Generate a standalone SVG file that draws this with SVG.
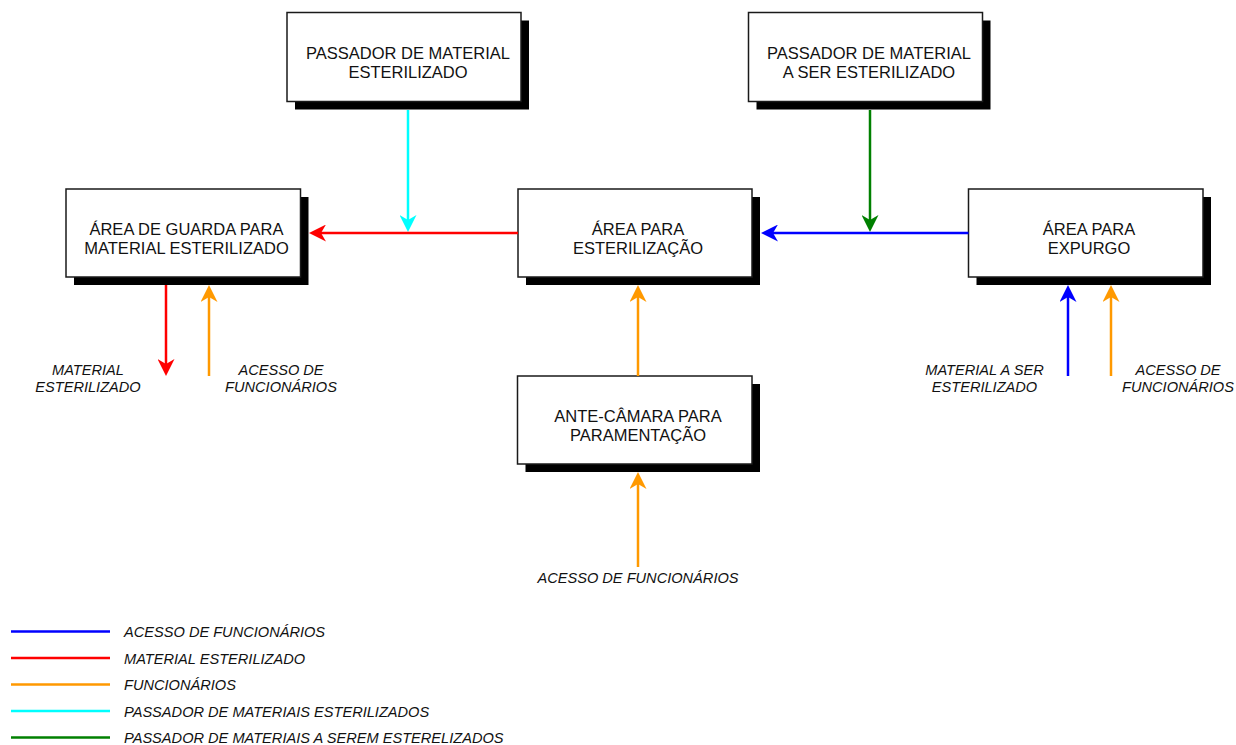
<svg xmlns="http://www.w3.org/2000/svg" width="1236" height="745" viewBox="0 0 1236 745">
  <defs>
    <style>
      .box { fill: #ffffff; stroke: #1a1a1a; stroke-width: 1.5; }
      .shadow { fill: #000000; }
      .title { font-family: "Liberation Sans", Arial, Helvetica, sans-serif; font-size: 16.5px; fill: #111111; text-anchor: middle; }
      .label { font-family: "Liberation Sans", Arial, Helvetica, sans-serif; font-size: 14.6px; font-style: italic; fill: #111111; text-anchor: middle; }
      .legend-text { font-family: "Liberation Sans", Arial, Helvetica, sans-serif; font-size: 14.6px; font-style: italic; fill: #111111; }
      .flow { fill: none; stroke-width: 2.5; }
      .blue { stroke: #0000ff; }
      .red { stroke: #ff0000; }
      .orange { stroke: #ff9900; }
      .cyan { stroke: #00ffff; }
      .green { stroke: #008000; }
    </style>
    <marker id="arrow-blue" viewBox="0 0 17 17" refX="5" refY="8.5" markerWidth="17" markerHeight="17" markerUnits="userSpaceOnUse" orient="auto">
      <path d="M0,0 L17,8.5 L0,17 L5,8.5 Z" fill="#0000ff"/>
    </marker>
    <marker id="arrow-red" viewBox="0 0 17 17" refX="5" refY="8.5" markerWidth="17" markerHeight="17" markerUnits="userSpaceOnUse" orient="auto">
      <path d="M0,0 L17,8.5 L0,17 L5,8.5 Z" fill="#ff0000"/>
    </marker>
    <marker id="arrow-orange" viewBox="0 0 17 17" refX="5" refY="8.5" markerWidth="17" markerHeight="17" markerUnits="userSpaceOnUse" orient="auto">
      <path d="M0,0 L17,8.5 L0,17 L5,8.5 Z" fill="#ff9900"/>
    </marker>
    <marker id="arrow-cyan" viewBox="0 0 17 17" refX="5" refY="8.5" markerWidth="17" markerHeight="17" markerUnits="userSpaceOnUse" orient="auto">
      <path d="M0,0 L17,8.5 L0,17 L5,8.5 Z" fill="#00ffff"/>
    </marker>
    <marker id="arrow-green" viewBox="0 0 17 17" refX="5" refY="8.5" markerWidth="17" markerHeight="17" markerUnits="userSpaceOnUse" orient="auto">
      <path d="M0,0 L17,8.5 L0,17 L5,8.5 Z" fill="#008000"/>
    </marker>
  </defs>

  <rect width="1236" height="745" fill="#ffffff"/>

  <!-- Rooms -->
  <g id="passador-esterilizado">
    <rect class="shadow" x="295" y="20.5" width="234" height="89"/>
    <rect class="box" x="287" y="12.5" width="234" height="89"/>
    <text class="title" x="408" y="59">PASSADOR DE MATERIAL</text>
    <text class="title" x="408" y="78">ESTERILIZADO</text>
  </g>

  <g id="passador-a-esterilizar">
    <rect class="shadow" x="756.5" y="20.5" width="234" height="89"/>
    <rect class="box" x="748.5" y="12.5" width="234" height="89"/>
    <text class="title" x="869" y="59">PASSADOR DE MATERIAL</text>
    <text class="title" x="869" y="78">A SER ESTERILIZADO</text>
  </g>

  <g id="area-guarda">
    <rect class="shadow" x="74" y="197" width="234.5" height="88"/>
    <rect class="box" x="66" y="189" width="234.5" height="88"/>
    <text class="title" x="186.5" y="235">ÁREA DE GUARDA PARA</text>
    <text class="title" x="186.5" y="254">MATERIAL ESTERILIZADO</text>
  </g>

  <g id="area-esterilizacao">
    <rect class="shadow" x="526" y="197" width="234" height="88"/>
    <rect class="box" x="518" y="189" width="234" height="88"/>
    <text class="title" x="638" y="235">ÁREA PARA</text>
    <text class="title" x="638" y="254">ESTERILIZAÇÃO</text>
  </g>

  <g id="area-expurgo">
    <rect class="shadow" x="976.5" y="197" width="234.5" height="88"/>
    <rect class="box" x="968.5" y="189" width="234.5" height="88"/>
    <text class="title" x="1089" y="235">ÁREA PARA</text>
    <text class="title" x="1089" y="254">EXPURGO</text>
  </g>

  <g id="ante-camara">
    <rect class="shadow" x="525.5" y="384" width="234.5" height="88"/>
    <rect class="box" x="517.5" y="376" width="234.5" height="88"/>
    <text class="title" x="638" y="422">ANTE-CÂMARA PARA</text>
    <text class="title" x="638" y="441">PARAMENTAÇÃO</text>
  </g>

  <!-- Flows -->
  <g id="connectors">
    <line class="flow cyan" x1="408" y1="110" x2="408" y2="220" marker-end="url(#arrow-cyan)"/>
    <line class="flow red" x1="518" y1="233" x2="321" y2="233" marker-end="url(#arrow-red)"/>
    <line class="flow green" x1="870" y1="110" x2="870" y2="220" marker-end="url(#arrow-green)"/>
    <line class="flow blue" x1="968.5" y1="233" x2="773" y2="233" marker-end="url(#arrow-blue)"/>
    <line class="flow red" x1="166" y1="285" x2="166" y2="364" marker-end="url(#arrow-red)"/>
    <line class="flow orange" x1="209" y1="376" x2="209" y2="297" marker-end="url(#arrow-orange)"/>
    <line class="flow orange" x1="638" y1="376" x2="638" y2="297" marker-end="url(#arrow-orange)"/>
    <line class="flow orange" x1="638" y1="567" x2="638" y2="484" marker-end="url(#arrow-orange)"/>
    <line class="flow blue" x1="1068" y1="376" x2="1068" y2="297" marker-end="url(#arrow-blue)"/>
    <line class="flow orange" x1="1111" y1="376" x2="1111" y2="297" marker-end="url(#arrow-orange)"/>
  </g>

  <!-- Flow labels -->
  <g id="flow-labels">
    <text class="label" x="88" y="374.5">MATERIAL</text>
    <text class="label" x="88" y="392">ESTERILIZADO</text>
    <text class="label" x="281" y="374.5">ACESSO DE</text>
    <text class="label" x="281" y="392">FUNCIONÁRIOS</text>
    <text class="label" x="984.5" y="374.5">MATERIAL A SER</text>
    <text class="label" x="984.5" y="392">ESTERILIZADO</text>
    <text class="label" x="1178" y="374.5">ACESSO DE</text>
    <text class="label" x="1178" y="392">FUNCIONÁRIOS</text>
    <text class="label" x="638" y="583">ACESSO DE FUNCIONÁRIOS</text>
  </g>

  <!-- Legend -->
  <g id="legend">
    <line class="flow blue" x1="11" y1="631.5" x2="110" y2="631.5"/>
    <text class="legend-text" x="124" y="637">ACESSO DE FUNCIONÁRIOS</text>
    <line class="flow red" x1="11" y1="658" x2="110" y2="658"/>
    <text class="legend-text" x="124" y="663.5">MATERIAL ESTERILIZADO</text>
    <line class="flow orange" x1="11" y1="684.5" x2="110" y2="684.5"/>
    <text class="legend-text" x="124" y="690">FUNCIONÁRIOS</text>
    <line class="flow cyan" x1="11" y1="711" x2="110" y2="711"/>
    <text class="legend-text" x="124" y="716.5">PASSADOR DE MATERIAIS ESTERILIZADOS</text>
    <line class="flow green" x1="11" y1="737.5" x2="110" y2="737.5"/>
    <text class="legend-text" x="124" y="743">PASSADOR DE MATERIAIS A SEREM ESTERELIZADOS</text>
  </g>
</svg>
